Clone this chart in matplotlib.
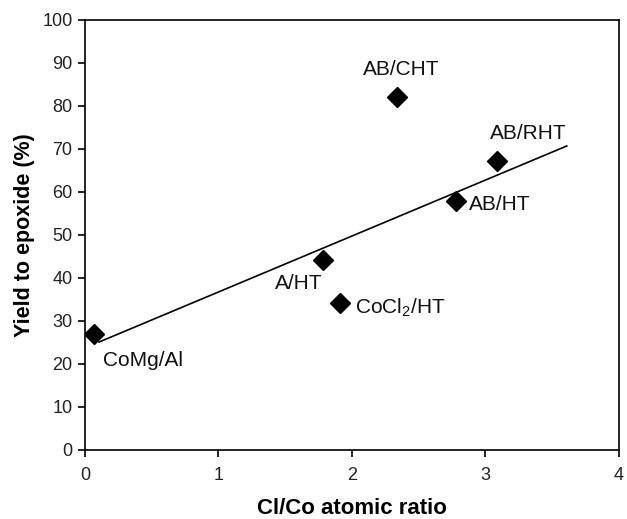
import numpy as np
import matplotlib
matplotlib.use("Agg")
from matplotlib import pyplot as plt

# Cl/Co atomic ratio vs yield to epoxide
samples = ["CoMg/Al", "A/HT", r"CoCl$_2$/HT", "AB/CHT", "AB/HT", "AB/RHT"]
cl_co = [0.07, 1.78, 1.91, 2.34, 2.78, 3.09]
yield_pct = [27.0, 44.2, 34.2, 82.0, 58.0, 67.2]

# trend line end points
trend_x = [0.105, 3.61]
trend_y = [25.1, 70.7]

# label placement (data coords, alignment)
label_pos = [(0.135, 20.9, "left"), (1.60, 38.8, "center"), (2.02, 33.0, "left"),
             (2.37, 88.4, "center"), (2.88, 57.0, "left"), (3.32, 73.7, "center")]

plt.rcParams['font.family'] = ['Liberation Sans', 'DejaVu Sans']
plt.rcParams['mathtext.fontset'] = 'custom'
plt.rcParams['mathtext.rm'] = 'Liberation Sans'

fig = plt.figure(figsize=(6.27, 5.19), dpi=100)
ax = fig.add_axes([0.1356, 0.133, 0.8514, 0.8285])

ax.plot(trend_x, trend_y, color="black", lw=1.2)
ax.plot(cl_co, yield_pct, "D", color="black", markersize=10, ls="none")

for name, (tx, ty, ha) in zip(samples, label_pos):
    ax.text(tx, ty, name, ha=ha, va="center", fontsize=15, color="#111111")

ax.set_xlim(0, 4)
ax.set_ylim(0, 100)
ax.set_xticks(np.arange(0, 5, 1))
ax.set_yticks(np.arange(0, 101, 10))
ax.tick_params(direction="out", length=5, width=1.2, labelsize=13, pad=4,
               top=False, right=False, labelcolor="#222222")
ax.tick_params(axis="x", pad=7)
for s in ax.spines.values():
    s.set_linewidth(1.2)

ax.set_xlabel("Cl/Co atomic ratio", fontsize=16, fontweight="bold", labelpad=10)
ax.set_ylabel("Yield to epoxide (%)", fontsize=15.5, fontweight="bold", labelpad=5)

fig.savefig("out.png", dpi=100)
